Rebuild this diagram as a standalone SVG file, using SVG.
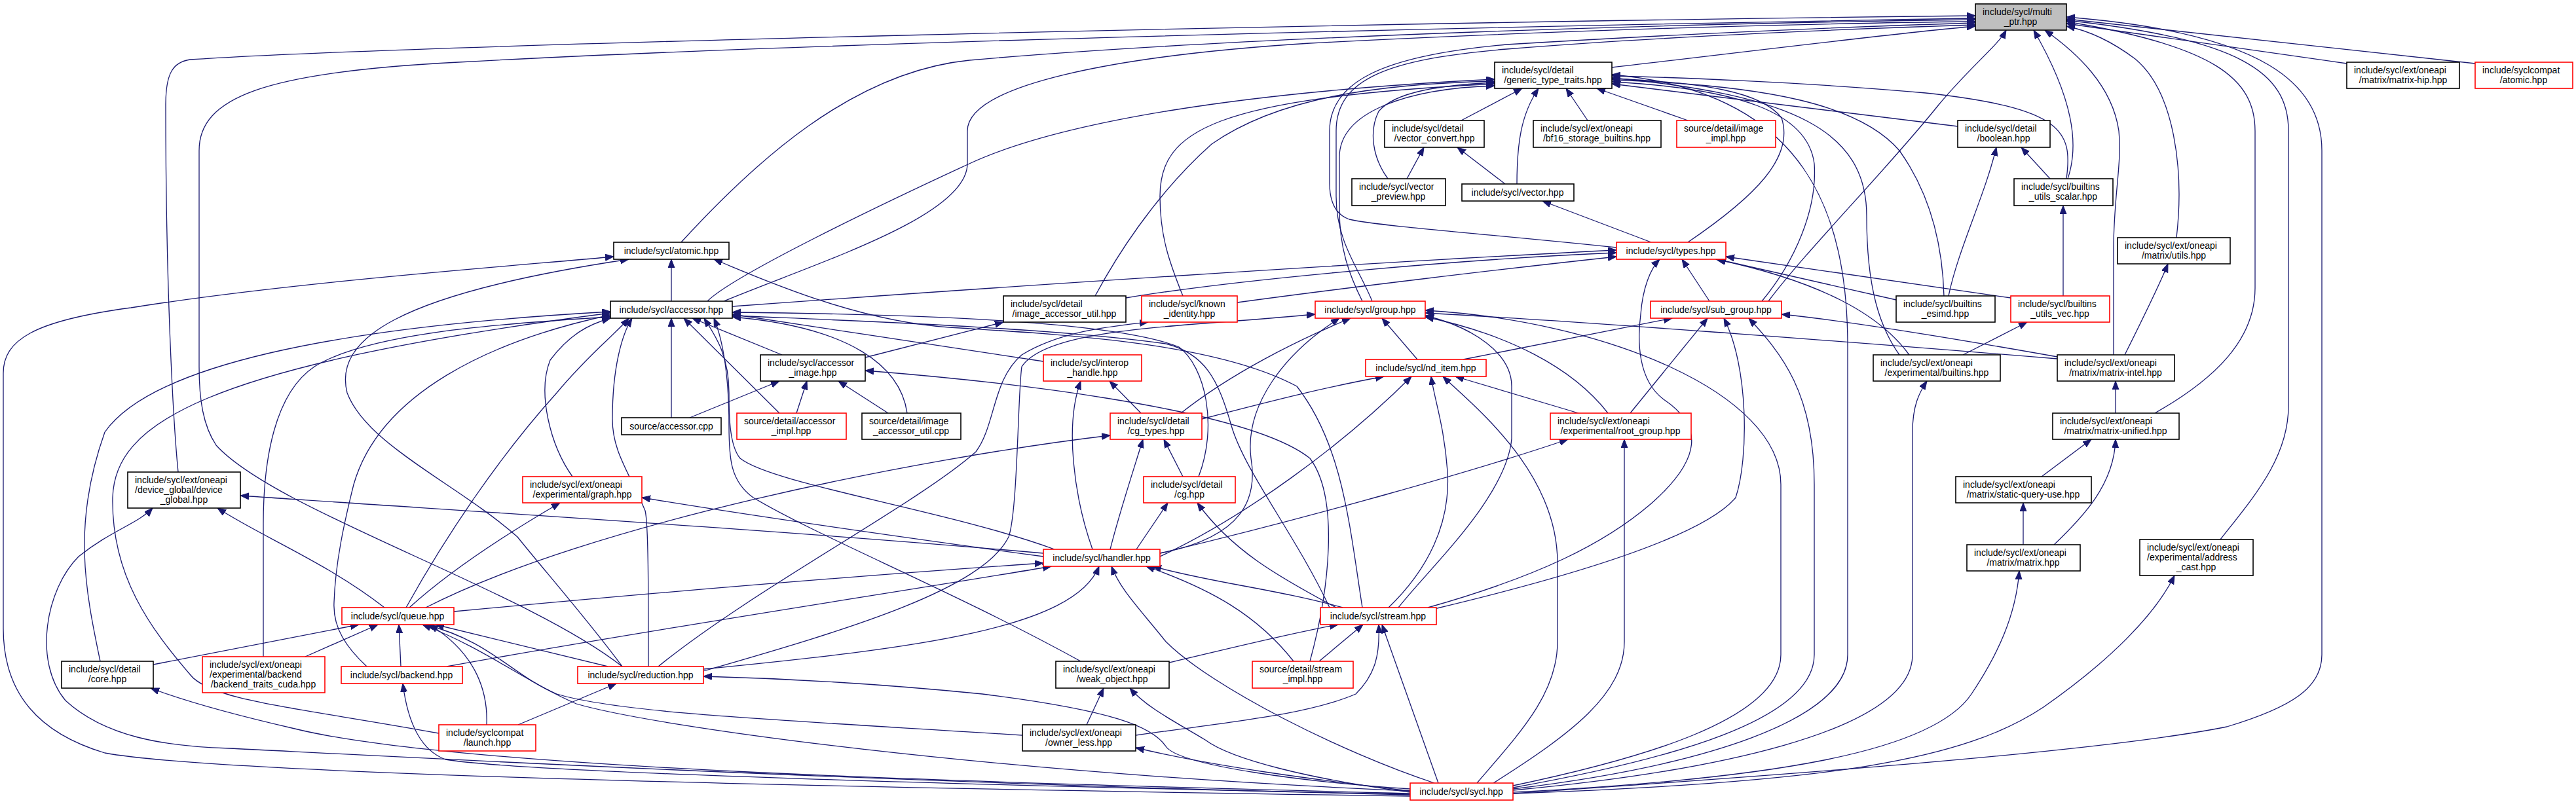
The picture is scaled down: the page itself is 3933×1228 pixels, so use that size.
<svg xmlns="http://www.w3.org/2000/svg" width="3933" height="1228" viewBox="0 0 3933 1228">
<style>
.n rect{fill:#fff;stroke:#000;stroke-width:1.6}
.r rect{stroke:#f00}
.root rect{fill:#bfbfbf}
text{font-family:"Liberation Sans",Arial,sans-serif;font-size:14px;fill:#000}
.c{text-anchor:middle}
.e path{fill:none;stroke:#191970;stroke-width:1.3;marker-end:url(#a)}
</style>
<defs>
<marker id="a" markerUnits="userSpaceOnUse" markerWidth="14" markerHeight="11" refX="13" refY="5" orient="auto"><path d="M0,0 L13,5 L0,10 Z" fill="#191970" stroke="#191970" stroke-width="1"/></marker>
</defs>
<rect x="0" y="0" width="3933" height="1228" fill="#fff"/>
<g id="edges" class="e">
<path d="M2461,103 C2700,75 2900,50 3016,40"/>
<path d="M1040,370 C1150,250 1300,110 1480,92 C1900,55 2600,35 3016,30"/>
<path d="M1105,460 C1250,400 1477,330 1477,250 L1477,200 C1477,130 1700,85 2000,66 C2400,45 2800,35 3016,33"/>
<path d="M2095,460 C2075,410 2040,370 2040,300 L2040,200 C2040,120 2120,90 2300,75 C2550,55 2850,43 3016,38"/>
<path d="M2700,460 C2760,380 2880,260 2960,160 C3010,100 3050,70 3063,46"/>
<path d="M2468,378 C2300,360 2100,345 2060,335 C2040,328 2030,310 2030,280 L2030,200 C2030,125 2110,85 2300,68 C2600,50 2850,40 3016,35"/>
<path d="M3157,273 C3175,220 3165,150 3105,46"/>
<path d="M3227,542 C3227,480 3227,420 3227,380 C3227,300 3240,250 3235,200 C3225,130 3170,80 3122,46"/>
<path d="M3323,363 C3335,260 3320,140 3260,90 C3220,60 3185,46 3155,40"/>
<path d="M3583,97 L3155,36"/>
<path d="M3779,97 L3155,29"/>
<path d="M3290,631 C3380,580 3443,520 3443,440 L3443,200 C3443,120 3380,70 3155,33"/>
<path d="M3390,824 C3440,760 3494,700 3494,620 L3494,200 C3494,110 3420,60 3155,31"/>
<path d="M2310,1212 C2700,1185 3200,1150 3400,1110 C3500,1080 3545,1050 3545,1000 L3545,230 C3545,130 3460,50 3155,26"/>
<path d="M272,721 C265,650 253,450 253,160 C253,110 265,95 290,91 C600,70 2000,35 3016,24"/>
<path d="M950,1018 C800,900 420,780 330,680 C310,650 304,610 304,560 L304,230 C304,150 400,110 700,95 C1300,62 2400,38 3016,28"/>
<path d="M2231,184 L2324,135"/>
<path d="M2316,281 C2316,220 2322,175 2349,135"/>
<path d="M2424,184 L2391,135"/>
<path d="M2577,184 L2438,135"/>
<path d="M2119,273 C2095,240 2090,200 2105,170 C2130,140 2200,130 2282,126"/>
<path d="M2577,370 C2680,300 2740,240 2720,180 C2690,140 2600,126 2461,120"/>
<path d="M2989,193 L2461,128"/>
<path d="M3155,273 C3165,200 3150,165 2940,142 C2750,125 2550,118 2461,116"/>
<path d="M1080,460 C1120,420 1350,310 1480,250 C1620,185 1900,140 2282,121"/>
<path d="M1672,452 C1700,400 1760,300 1850,220 C1950,150 2100,128 2282,124"/>
<path d="M1806,452 C1785,400 1771,360 1771,300 C1771,200 1850,150 2282,128"/>
<path d="M2080,460 C2060,420 2045,380 2045,320 L2045,240 C2045,170 2150,135 2282,131"/>
<path d="M2690,460 C2740,400 2775,320 2770,250 C2760,170 2650,135 2461,125"/>
<path d="M2968,452 C2966,380 2950,300 2900,230 C2840,160 2700,130 2461,122"/>
<path d="M2900,542 C2870,500 2850,440 2850,330 C2850,200 2740,145 2461,119"/>
<path d="M2310,1205 C2600,1170 2821,1100 2821,1000 L2821,530 C2821,330 2760,140 2461,114"/>
<path d="M1025,460 L1025,396"/>
<path d="M2080,928 C2060,800 2050,680 1980,590 C1850,520 1600,510 1450,500 C1300,490 1150,420 1090,396"/>
<path d="M2153,1216 C1400,1205 350,1185 160,1150 C60,1120 5,1060 5,960 L5,570 C5,520 50,490 200,470 C450,430 800,405 937,392"/>
<path d="M950,1018 C900,950 830,870 790,820 C700,740 560,680 530,600 C510,520 600,450 960,396"/>
<path d="M2148,273 L2174,225"/>
<path d="M2298,281 L2225,225"/>
<path d="M3130,273 L3086,225"/>
<path d="M2975,452 C2990,380 3030,300 3048,225"/>
<path d="M2521,370 L2355,307"/>
<path d="M3150,452 L3150,314"/>
<path d="M1118,468 C1500,440 2100,400 2468,382"/>
<path d="M1719,455 C1900,425 2250,395 2468,386"/>
<path d="M1889,462 C2050,440 2300,410 2468,392"/>
<path d="M2610,460 L2568,396"/>
<path d="M2180,928 C2350,880 2450,830 2520,770 C2600,700 2600,650 2540,610 C2500,580 2500,520 2505,480 C2508,440 2520,410 2534,396"/>
<path d="M2895,458 L2622,396"/>
<path d="M2915,542 C2870,480 2780,430 2620,396"/>
<path d="M3070,455 C2900,430 2750,410 2635,392"/>
<path d="M3244,542 C3270,490 3295,440 3310,403"/>
<path d="M1025,638 L1025,486"/>
<path d="M1190,631 L1044,486"/>
<path d="M1385,631 C1375,560 1300,500 1118,484"/>
<path d="M1194,542 L1057,486"/>
<path d="M1593,552 L1118,480"/>
<path d="M1830,728 C1860,650 1840,560 1800,530 C1700,490 1400,480 1118,477"/>
<path d="M1610,839 C1450,780 1180,740 1130,700 C1113,680 1113,630 1113,600 C1113,540 1090,510 1075,486"/>
<path d="M620,928 C680,820 760,700 850,600 C900,540 940,510 960,486"/>
<path d="M990,1018 C990,900 990,800 985,780 C960,720 935,690 935,640 C935,560 950,510 965,486"/>
<path d="M2030,928 C1980,820 1900,720 1880,650 C1860,580 1840,540 1780,525 C1600,500 1300,490 1118,482"/>
<path d="M874,728 C840,680 820,600 840,550 C870,510 900,495 932,486"/>
<path d="M560,1018 C530,990 508,960 510,920 C512,860 525,800 540,740 C580,600 750,520 932,481"/>
<path d="M153,1010 C130,900 110,800 160,660 C230,560 500,500 932,476"/>
<path d="M402,1003 L402,800 C402,700 420,600 480,560 C560,510 750,495 932,484"/>
<path d="M670,1120 C450,1080 320,1070 290,1030 C230,960 170,880 172,760 C175,650 300,560 932,478"/>
<path d="M1650,1010 C1450,900 1250,820 1150,760 C1115,735 1113,700 1113,650 C1113,560 1100,510 1090,486"/>
<path d="M1321,546 L1532,492"/>
<path d="M1005,1018 C1150,900 1400,770 1490,690 C1520,650 1515,580 1560,542 C1620,505 1700,498 1753,492"/>
<path d="M2164,549 L2110,486"/>
<path d="M1803,631 C1880,570 1980,520 2062,486"/>
<path d="M1771,845 C1900,820 1920,760 1910,700 C1900,620 1960,540 2045,486"/>
<path d="M2455,631 C2400,560 2300,510 2176,484"/>
<path d="M2135,928 C2180,870 2300,760 2308,670 L2308,590 C2308,540 2250,500 2176,482"/>
<path d="M1074,1025 C1300,960 1500,900 1540,820 C1554,780 1554,600 1560,560 C1600,500 1800,500 2008,480"/>
<path d="M2310,1200 C2500,1160 2719,1100 2719,1000 L2719,740 C2719,600 2450,490 2176,474"/>
<path d="M3141,548 C2800,520 2400,490 2176,478"/>
<path d="M2234,549 L2553,486"/>
<path d="M2489,631 L2607,486"/>
<path d="M2190,930 C2400,880 2600,820 2650,760 C2670,700 2670,560 2632,486"/>
<path d="M2310,1203 C2550,1160 2770,1100 2770,1000 L2770,740 C2770,600 2720,540 2670,486"/>
<path d="M3141,545 C3000,520 2820,490 2720,480"/>
<path d="M2997,542 L3095,492"/>
<path d="M1216,631 L1232,582"/>
<path d="M1356,631 L1280,582"/>
<path d="M1053,638 L1190,582"/>
<path d="M2000,1010 C2030,900 2045,760 2000,700 C1900,620 1500,580 1321,566"/>
<path d="M1742,631 L1694,582"/>
<path d="M1668,839 C1640,760 1625,650 1650,582"/>
<path d="M1835,640 C1950,610 2030,590 2113,575"/>
<path d="M1771,850 C1900,790 2050,680 2155,575"/>
<path d="M2120,928 C2180,870 2215,800 2210,720 C2205,650 2190,610 2185,575"/>
<path d="M2255,1196 C2320,1120 2378,1060 2378,980 L2378,860 C2378,720 2250,620 2203,575"/>
<path d="M2410,631 L2222,575"/>
<path d="M2310,1207 C2600,1180 2920,1120 2920,1000 L2920,660 C2920,620 2930,600 2942,582"/>
<path d="M3230,631 L3230,582"/>
<path d="M1806,728 L1777,671"/>
<path d="M1695,839 C1710,780 1730,720 1745,671"/>
<path d="M650,928 C900,800 1400,700 1695,665"/>
<path d="M1771,845 C2000,790 2250,720 2394,671"/>
<path d="M2280,1196 C2400,1120 2480,1060 2480,980 L2480,671"/>
<path d="M3117,728 L3193,671"/>
<path d="M3136,832 C3180,790 3228,740 3230,671"/>
<path d="M587,928 C500,860 400,820 332,776"/>
<path d="M2153,1214 C1300,1195 500,1150 350,1143 C250,1140 160,1125 100,1070 C50,1010 70,900 120,850 C170,810 210,800 233,776"/>
<path d="M1593,845 C1200,810 700,780 367,757"/>
<path d="M625,928 C700,860 800,800 855,768"/>
<path d="M1593,850 C1300,810 1100,780 980,760"/>
<path d="M1735,839 L1783,768"/>
<path d="M2040,928 C1950,880 1880,840 1828,768"/>
<path d="M3089,832 L3089,768"/>
<path d="M693,934 C1000,905 1300,880 1593,860"/>
<path d="M682,1018 C1000,960 1400,900 1605,865"/>
<path d="M1074,1022 C1400,990 1640,960 1678,865"/>
<path d="M2190,1196 C2050,1150 1850,1050 1780,980 C1740,930 1710,900 1697,865"/>
<path d="M2050,928 C1950,900 1850,890 1760,865"/>
<path d="M1975,1010 C1920,940 1850,900 1750,865"/>
<path d="M2310,1210 C2700,1190 2950,1150 3010,1060 C3050,1000 3078,940 3083,872"/>
<path d="M2310,1212 C2800,1195 3000,1160 3120,1080 C3220,1010 3290,940 3320,879"/>
<path d="M234,1015 L548,954"/>
<path d="M466,1003 L577,954"/>
<path d="M612,1018 L609,954"/>
<path d="M743,1107 C745,1060 730,1000 656,954"/>
<path d="M928,1018 L665,954"/>
<path d="M1561,1123 C1200,1100 950,1090 850,1060 C780,1030 750,980 650,954"/>
<path d="M2153,1208 C1500,1180 1000,1110 880,1075 C800,1040 740,990 645,954"/>
<path d="M2014,1010 L2081,954"/>
<path d="M2196,1196 L2110,954"/>
<path d="M1785,1012 C1900,985 1980,965 2043,954"/>
<path d="M1734,1123 C1900,1100 2000,1090 2070,1060 C2100,1030 2107,1000 2105,954"/>
<path d="M2153,1212 C1500,1195 700,1175 450,1113 C350,1090 280,1070 230,1051"/>
<path d="M2153,1213 C1500,1200 800,1180 680,1160 C640,1145 622,1100 615,1044"/>
<path d="M791,1107 L941,1044"/>
<path d="M2153,1205 C2000,1195 1800,1170 1780,1140 C1760,1110 1700,1085 1500,1060 C1300,1040 1150,1035 1074,1033"/>
<path d="M1659,1107 L1685,1051"/>
<path d="M2153,1210 C2000,1190 1880,1160 1840,1130 C1790,1100 1750,1080 1725,1051"/>
<path d="M2153,1208 C2000,1190 1850,1170 1734,1142"/>
</g>
<g id="n-multi_ptr" class="n root"><rect x="3016" y="6" width="139" height="40"/><text x="3027" y="23">include/sycl/multi</text><text class="c" x="3085" y="38">_ptr.hpp</text></g>
<g id="n-generic_type_traits" class="n"><rect x="2282" y="95" width="179" height="40"/><text x="2293" y="112">include/sycl/detail</text><text class="c" x="2371" y="127">/generic_type_traits.hpp</text></g>
<g id="n-matrix_hip" class="n"><rect x="3583" y="95" width="172" height="40"/><text x="3594" y="112">include/sycl/ext/oneapi</text><text class="c" x="3669" y="127">/matrix/matrix-hip.hpp</text></g>
<g id="n-compat_atomic" class="n r"><rect x="3779" y="95" width="149" height="40"/><text x="3790" y="112">include/syclcompat</text><text class="c" x="3853" y="127">/atomic.hpp</text></g>
<g id="n-atomic" class="n"><rect x="937" y="370" width="176" height="26"/><text class="c" x="1025" y="388">include/sycl/atomic.hpp</text></g>
<g id="n-vector_convert" class="n"><rect x="2114" y="184" width="152" height="41"/><text x="2125" y="201">include/sycl/detail</text><text class="c" x="2190" y="216">/vector_convert.hpp</text></g>
<g id="n-bf16" class="n"><rect x="2341" y="184" width="195" height="41"/><text x="2352" y="201">include/sycl/ext/oneapi</text><text class="c" x="2438" y="216">/bf16_storage_builtins.hpp</text></g>
<g id="n-image_impl" class="n r"><rect x="2560" y="184" width="151" height="41"/><text x="2571" y="201">source/detail/image</text><text class="c" x="2635" y="216">_impl.hpp</text></g>
<g id="n-boolean" class="n"><rect x="2989" y="184" width="141" height="41"/><text x="3000" y="201">include/sycl/detail</text><text class="c" x="3059" y="216">/boolean.hpp</text></g>
<g id="n-vector_preview" class="n"><rect x="2064" y="273" width="143" height="41"/><text x="2075" y="290">include/sycl/vector</text><text class="c" x="2135" y="305">_preview.hpp</text></g>
<g id="n-vector" class="n"><rect x="2232" y="281" width="171" height="26"/><text class="c" x="2317" y="299">include/sycl/vector.hpp</text></g>
<g id="n-utils_scalar" class="n"><rect x="3075" y="273" width="151" height="41"/><text x="3086" y="290">include/sycl/builtins</text><text class="c" x="3150" y="305">_utils_scalar.hpp</text></g>
<g id="n-types" class="n r"><rect x="2468" y="370" width="167" height="26"/><text class="c" x="2551" y="388">include/sycl/types.hpp</text></g>
<g id="n-matrix_utils" class="n"><rect x="3233" y="363" width="172" height="40"/><text x="3244" y="380">include/sycl/ext/oneapi</text><text class="c" x="3319" y="395">/matrix/utils.hpp</text></g>
<g id="n-accessor" class="n"><rect x="932" y="460" width="186" height="26"/><text class="c" x="1025" y="478">include/sycl/accessor.hpp</text></g>
<g id="n-image_accessor_util" class="n"><rect x="1532" y="452" width="187" height="40"/><text x="1543" y="469">include/sycl/detail</text><text class="c" x="1625" y="484">/image_accessor_util.hpp</text></g>
<g id="n-known_identity" class="n r"><rect x="1743" y="452" width="146" height="40"/><text x="1754" y="469">include/sycl/known</text><text class="c" x="1816" y="484">_identity.hpp</text></g>
<g id="n-group" class="n r"><rect x="2008" y="460" width="168" height="26"/><text class="c" x="2092" y="478">include/sycl/group.hpp</text></g>
<g id="n-sub_group" class="n r"><rect x="2520" y="460" width="200" height="26"/><text class="c" x="2620" y="478">include/sycl/sub_group.hpp</text></g>
<g id="n-builtins_esimd" class="n"><rect x="2895" y="452" width="151" height="40"/><text x="2906" y="469">include/sycl/builtins</text><text class="c" x="2970" y="484">_esimd.hpp</text></g>
<g id="n-utils_vec" class="n r"><rect x="3070" y="452" width="151" height="40"/><text x="3081" y="469">include/sycl/builtins</text><text class="c" x="3145" y="484">_utils_vec.hpp</text></g>
<g id="n-accessor_image" class="n"><rect x="1161" y="542" width="160" height="40"/><text x="1172" y="559">include/sycl/accessor</text><text class="c" x="1241" y="574">_image.hpp</text></g>
<g id="n-interop_handle" class="n r"><rect x="1593" y="542" width="150" height="40"/><text x="1604" y="559">include/sycl/interop</text><text class="c" x="1668" y="574">_handle.hpp</text></g>
<g id="n-nd_item" class="n r"><rect x="2085" y="549" width="184" height="26"/><text class="c" x="2177" y="567">include/sycl/nd_item.hpp</text></g>
<g id="n-exp_builtins" class="n"><rect x="2860" y="542" width="194" height="40"/><text x="2871" y="559">include/sycl/ext/oneapi</text><text class="c" x="2957" y="574">/experimental/builtins.hpp</text></g>
<g id="n-matrix_intel" class="n"><rect x="3141" y="542" width="179" height="40"/><text x="3152" y="559">include/sycl/ext/oneapi</text><text class="c" x="3230" y="574">/matrix/matrix-intel.hpp</text></g>
<g id="n-accessor_cpp" class="n"><rect x="949" y="638" width="152" height="26"/><text class="c" x="1025" y="656">source/accessor.cpp</text></g>
<g id="n-accessor_impl" class="n r"><rect x="1125" y="631" width="167" height="40"/><text x="1136" y="648">source/detail/accessor</text><text class="c" x="1208" y="663">_impl.hpp</text></g>
<g id="n-image_accessor_util_cpp" class="n"><rect x="1316" y="631" width="151" height="40"/><text x="1327" y="648">source/detail/image</text><text class="c" x="1391" y="663">_accessor_util.cpp</text></g>
<g id="n-cg_types" class="n r"><rect x="1695" y="631" width="140" height="40"/><text x="1706" y="648">include/sycl/detail</text><text class="c" x="1765" y="663">/cg_types.hpp</text></g>
<g id="n-root_group" class="n r"><rect x="2367" y="631" width="215" height="40"/><text x="2378" y="648">include/sycl/ext/oneapi</text><text class="c" x="2474" y="663">/experimental/root_group.hpp</text></g>
<g id="n-matrix_unified" class="n"><rect x="3134" y="631" width="193" height="40"/><text x="3145" y="648">include/sycl/ext/oneapi</text><text class="c" x="3230" y="663">/matrix/matrix-unified.hpp</text></g>
<g id="n-device_global" class="n"><rect x="195" y="721" width="172" height="55"/><text x="206" y="738">include/sycl/ext/oneapi</text><text x="206" y="753">/device_global/device</text><text class="c" x="281" y="768">_global.hpp</text></g>
<g id="n-graph" class="n r"><rect x="798" y="728" width="182" height="40"/><text x="809" y="745">include/sycl/ext/oneapi</text><text class="c" x="889" y="760">/experimental/graph.hpp</text></g>
<g id="n-cg" class="n r"><rect x="1746" y="728" width="140" height="40"/><text x="1757" y="745">include/sycl/detail</text><text class="c" x="1816" y="760">/cg.hpp</text></g>
<g id="n-static_query_use" class="n"><rect x="2986" y="728" width="207" height="40"/><text x="2997" y="745">include/sycl/ext/oneapi</text><text class="c" x="3089" y="760">/matrix/static-query-use.hpp</text></g>
<g id="n-handler" class="n r"><rect x="1593" y="839" width="178" height="26"/><text class="c" x="1682" y="857">include/sycl/handler.hpp</text></g>
<g id="n-matrix" class="n"><rect x="3003" y="832" width="173" height="40"/><text x="3014" y="849">include/sycl/ext/oneapi</text><text class="c" x="3089" y="864">/matrix/matrix.hpp</text></g>
<g id="n-address_cast" class="n"><rect x="3267" y="824" width="173" height="55"/><text x="3278" y="841">include/sycl/ext/oneapi</text><text x="3278" y="856">/experimental/address</text><text class="c" x="3353" y="871">_cast.hpp</text></g>
<g id="n-queue" class="n r"><rect x="522" y="928" width="171" height="26"/><text class="c" x="607" y="946">include/sycl/queue.hpp</text></g>
<g id="n-stream" class="n r"><rect x="2016" y="928" width="177" height="26"/><text class="c" x="2104" y="946">include/sycl/stream.hpp</text></g>
<g id="n-core" class="n"><rect x="94" y="1010" width="140" height="41"/><text x="105" y="1027">include/sycl/detail</text><text class="c" x="164" y="1042">/core.hpp</text></g>
<g id="n-backend_traits_cuda" class="n r"><rect x="309" y="1003" width="187" height="55"/><text x="320" y="1020">include/sycl/ext/oneapi</text><text x="320" y="1035">/experimental/backend</text><text class="c" x="402" y="1050">/backend_traits_cuda.hpp</text></g>
<g id="n-backend" class="n r"><rect x="521" y="1018" width="185" height="26"/><text class="c" x="613" y="1036">include/sycl/backend.hpp</text></g>
<g id="n-reduction" class="n r"><rect x="882" y="1018" width="192" height="26"/><text class="c" x="978" y="1036">include/sycl/reduction.hpp</text></g>
<g id="n-weak_object" class="n"><rect x="1612" y="1010" width="173" height="41"/><text x="1623" y="1027">include/sycl/ext/oneapi</text><text class="c" x="1698" y="1042">/weak_object.hpp</text></g>
<g id="n-stream_impl" class="n r"><rect x="1912" y="1010" width="154" height="41"/><text x="1923" y="1027">source/detail/stream</text><text class="c" x="1989" y="1042">_impl.hpp</text></g>
<g id="n-launch" class="n r"><rect x="670" y="1107" width="148" height="40"/><text x="681" y="1124">include/syclcompat</text><text class="c" x="744" y="1139">/launch.hpp</text></g>
<g id="n-owner_less" class="n"><rect x="1561" y="1107" width="173" height="40"/><text x="1572" y="1124">include/sycl/ext/oneapi</text><text class="c" x="1647" y="1139">/owner_less.hpp</text></g>
<g id="n-sycl" class="n r"><rect x="2153" y="1196" width="157" height="26"/><text class="c" x="2231" y="1214">include/sycl/sycl.hpp</text></g>
</svg>
